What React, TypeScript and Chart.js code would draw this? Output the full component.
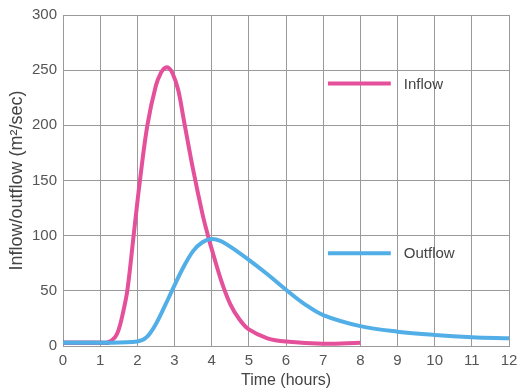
import React, { useEffect, useRef } from "react";
import { Chart, registerables } from "chart.js";

Chart.register(...registerables);

const inflowHours = [0, 1, 1.2, 1.4, 1.5, 1.6, 1.73, 1.9, 2.07, 2.27, 2.5, 2.64, 2.74, 2.84, 2.95, 3.1, 3.25, 3.5, 3.75, 3.9, 4, 4.25, 4.5, 4.75, 5, 5.5, 6, 7, 8];
const inflowValues = [3, 3, 3, 8, 15, 28, 50, 100, 150, 200, 236, 248, 252, 252, 247, 232, 205, 160, 120, 100, 88, 60, 38, 24, 15, 7, 4, 2, 3];
const outflowHours = [0, 1, 2, 2.25, 2.5, 2.75, 3, 3.25, 3.5, 3.75, 4, 4.25, 4.5, 5, 5.5, 6, 6.5, 7, 8, 9, 10, 11, 12];
const outflowValues = [3, 3, 4, 8, 20, 37, 55, 72, 86, 94, 97, 95, 90, 78, 65, 51, 38, 28, 18, 13, 10, 8, 7];
const overlapHours = [0, 1.25];
const overlapValues = [3, 3];
const xTicks = [0, 1, 2, 3, 4, 5, 6, 7, 8, 9, 10, 11, 12];
const yTicks = [0, 50, 100, 150, 200, 250, 300];
const seriesNames = ["Inflow", "Outflow"];
const seriesColors = ["#e4509a", "#52aee6"];
const FONT = "'Liberation Sans', Arial, sans-serif";

const legendPlugin = {
  id: "inlineLegend",
  afterDatasetsDraw(chart: any) {
    const { ctx, chartArea } = chart;
    const w = chartArea.right - chartArea.left;
    const h = chartArea.bottom - chartArea.top;
    const rows = [0.207, 0.72];
    ctx.save();
    seriesNames.forEach((name, i) => {
      const y = chartArea.top + h * rows[i];
      const x0 = chartArea.left + w * 0.594;
      const x1 = chartArea.left + w * 0.735;
      ctx.strokeStyle = seriesColors[i];
      ctx.lineWidth = 4;
      ctx.beginPath();
      ctx.moveTo(x0, y);
      ctx.lineTo(x1, y);
      ctx.stroke();
      ctx.fillStyle = "#444";
      ctx.font = "15px " + FONT;
      ctx.textBaseline = "middle";
      ctx.textAlign = "left";
      ctx.fillText(name, x1 + 13, y + 1);
    });
    ctx.restore();
  },
};

export default function App() {
  const ref = useRef<HTMLCanvasElement | null>(null);
  useEffect(() => {
    if (!ref.current) return;
    const chart = new Chart(ref.current, {
      type: "line",
      data: {
        datasets: [
          {
            label: "Outflow",
            data: outflowHours.map((x, i) => ({ x, y: outflowValues[i] })),
            borderColor: seriesColors[1],
            borderWidth: 4,
            pointRadius: 0,
            tension: 0.35,
          },
          {
            label: "Inflow",
            data: inflowHours.map((x, i) => ({ x, y: inflowValues[i] })),
            borderColor: seriesColors[0],
            borderWidth: 4,
            pointRadius: 0,
            tension: 0.35,
          },
          {
            label: "Overlap",
            data: overlapHours.map((x, i) => ({ x, y: overlapValues[i] })),
            borderColor: "#2b2f7e",
            borderWidth: 4,
            pointRadius: 0,
          },
        ],
      },
      options: {
        responsive: false,
        animation: false,
        layout: { padding: { top: 9, right: 9, left: 0, bottom: 0 } },
        plugins: { legend: { display: false }, tooltip: { enabled: false } },
        scales: {
          x: {
            type: "linear",
            min: 0,
            max: 12,
            afterBuildTicks: (s: any) => {
              s.ticks = xTicks.map((v) => ({ value: v }));
            },
            grid: { color: "#9a9a9a", lineWidth: 1, drawTicks: false },
            border: { color: "#9a9a9a" },
            ticks: {
              color: "#555",
              padding: 6,
              maxRotation: 0,
              font: { family: FONT, size: 15 },
            },
            title: {
              display: true,
              text: "Time (hours)",
              color: "#444",
              padding: { top: 2, bottom: 2 },
              font: { family: FONT, size: 16 },
            },
            afterFit: (s: any) => {
              s.height = 46;
              s.paddingLeft = 0;
              s.paddingRight = 0;
            },
          },
          y: {
            min: 0,
            max: 300,
            afterBuildTicks: (s: any) => {
              s.ticks = yTicks.map((v) => ({ value: v }));
            },
            grid: { color: "#9a9a9a", lineWidth: 1, drawTicks: false },
            border: { color: "#9a9a9a" },
            ticks: {
              color: "#555",
              padding: 6,
              font: { family: FONT, size: 15 },
            },
            title: {
              display: true,
              text: "Inflow/outflow (m²/sec)",
              color: "#444",
              padding: { top: 6, bottom: 2 },
              font: { family: FONT, size: 18 },
            },
            afterFit: (s: any) => {
              s.width = 63;
            },
          },
        },
      },
      plugins: [legendPlugin],
    } as any);
    return () => chart.destroy();
  }, []);
  return (
    <div style={{ position: "fixed", left: 0, top: 0, width: 518, height: 392, background: "#fff" }}>
      <canvas ref={ref} width={518} height={392} />
    </div>
  );
}
